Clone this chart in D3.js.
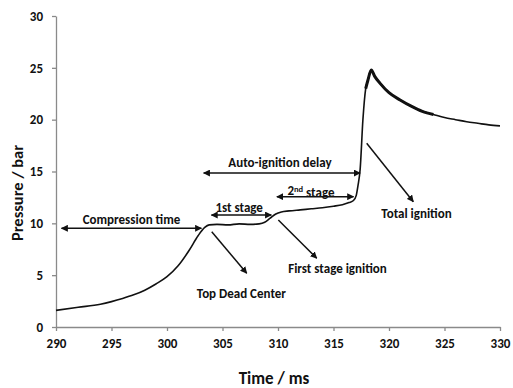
<!DOCTYPE html>
<html>
<head>
<meta charset="utf-8">
<script src="https://cdn.jsdelivr.net/npm/d3@7"></script>
<style>
  body { margin: 0; background: #fff; }
  svg text { font-family: Carlito, Calibri, Lato, sans-serif; font-weight: bold; fill: #111; }
</style>
</head>
<body>
<div id="chart"></div>
<script>
// pressure trace, time in ms / pressure in bar
const timeMs = [290, 292, 294, 295, 296, 297, 298, 299, 300, 301, 302, 302.8, 303.4, 303.8,
  304.5, 305.5, 306.5, 307.5, 308.3, 308.8, 309.3, 309.8, 310.3, 311, 312, 313, 314, 315,
  315.8, 316.4, 316.8, 317.05, 317.2, 317.4, 317.65, 317.9, 318.1, 318.4, 318.7, 319.2,
  320, 321, 322, 323, 324, 325, 326, 327, 328, 329, 330];
const pressureBar = [1.6, 1.9, 2.2, 2.45, 2.75, 3.1, 3.55, 4.15, 4.85, 5.9, 7.4, 8.8, 9.6, 9.85,
  9.9, 9.85, 9.95, 9.9, 9.95, 10.1, 10.5, 10.9, 11.1, 11.2, 11.3, 11.4, 11.5, 11.65,
  11.8, 12.0, 12.2, 12.7, 13.6, 15.2, 20, 23, 23.8, 24.8, 24.2, 23.5,
  22.6, 21.9, 21.3, 20.8, 20.5, 20.2, 20.0, 19.8, 19.65, 19.5, 19.4];

const xTicks = [290, 295, 300, 305, 310, 315, 320, 325, 330];
const yTicks = [0, 5, 10, 15, 20, 25, 30];

// double-headed arrows: [t1, t2, p]
const spanArrows = [
  [290.5, 303.1, 9.52],   // compression time
  [303.3, 317.4, 14.85],  // auto-ignition delay
  [304.0, 309.4, 10.8],   // 1st stage
  [309.9, 316.8, 12.57]   // 2nd stage
];
// pointer arrows: [t1, p1, t2, p2]
const pointerArrows = [
  [304.03, 9.19, 307.18, 5.18],   // top dead center
  [310.03, 10.32, 313.49, 6.63],  // first stage ignition
  [317.99, 17.72, 322.19, 12.09]  // total ignition
];
const labelText = ["Compression time", "Auto-ignition delay", "1st stage", "Top Dead Center", "First stage ignition", "Total ignition"];
const labelTime = [296.8, 310.18, 306.5, 306.7, 315.36, 322.48];
const labelPressure = [10.37, 15.92, 11.55, 3.28, 5.66, 11.0];

const W = 513, H = 388;
const svg = d3.select("#chart").append("svg")
  .attr("width", W).attr("height", H);

const x = d3.scaleLinear().domain([290, 330]).range([56, 500]);
const y = d3.scaleLinear().domain([0, 30]).range([327, 16]);

svg.append("defs").append("marker")
  .attr("id", "head")
  .attr("viewBox", "0 0 10 10")
  .attr("refX", 9).attr("refY", 5)
  .attr("markerWidth", 7).attr("markerHeight", 7)
  .attr("markerUnits", "userSpaceOnUse")
  .attr("orient", "auto-start-reverse")
  .append("path").attr("d", "M0,0 L10,5 L0,10 z").attr("fill", "#111");

// axes
const xAxis = svg.append("g")
  .attr("transform", `translate(0,${y(0)})`)
  .call(d3.axisBottom(x).tickValues(xTicks).tickSize(4).tickSizeOuter(0).tickPadding(8));
const yAxis = svg.append("g")
  .attr("transform", `translate(${x(290)},0)`)
  .call(d3.axisLeft(y).tickValues(yTicks).tickSize(4).tickSizeOuter(0).tickPadding(9));
[xAxis, yAxis].forEach(a => {
  a.selectAll("path, line").attr("stroke", "#8a8a8a").attr("stroke-width", 1.3);
  a.selectAll("text").style("font-size", "13px").attr("fill", "#111");
});

svg.append("text")
  .attr("x", 274).attr("y", 378).attr("dy", "0.35em")
  .attr("text-anchor", "middle").style("font-size", "17px")
  .text("Time / ms");
svg.append("text")
  .attr("transform", "translate(17.5,193) rotate(-90)")
  .attr("dy", "0.35em")
  .attr("text-anchor", "middle").style("font-size", "16.5px")
  .text("Pressure  / bar");

// pressure trace
const pts = timeMs.map((t, i) => [t, pressureBar[i]]);
const line = d3.line().x(d => x(d[0])).y(d => y(d[1])).curve(d3.curveMonotoneX);
svg.append("path")
  .attr("d", line(pts))
  .attr("fill", "none").attr("stroke", "#111").attr("stroke-width", 1.6);
// noisy, thicker band after the peak
svg.append("path")
  .attr("d", line(pts.filter(d => d[0] >= 317.9 && d[0] <= 324)))
  .attr("fill", "none").attr("stroke", "#111").attr("stroke-width", 3);

// arrows
svg.selectAll(".span-arrow").data(spanArrows).enter().append("line")
  .attr("class", "span-arrow")
  .attr("x1", d => x(d[0])).attr("x2", d => x(d[1]))
  .attr("y1", d => y(d[2])).attr("y2", d => y(d[2]))
  .attr("stroke", "#111").attr("stroke-width", 1.5)
  .attr("marker-start", "url(#head)").attr("marker-end", "url(#head)");

svg.selectAll(".ptr-arrow").data(pointerArrows).enter().append("line")
  .attr("class", "ptr-arrow")
  .attr("x1", d => x(d[0])).attr("y1", d => y(d[1]))
  .attr("x2", d => x(d[2])).attr("y2", d => y(d[3]))
  .attr("stroke", "#111").attr("stroke-width", 1.5)
  .attr("marker-end", "url(#head)");

svg.selectAll(".note").data(labelText).enter().append("text")
  .attr("class", "note")
  .attr("x", (d, i) => x(labelTime[i])).attr("y", (d, i) => y(labelPressure[i]))
  .attr("dy", "0.35em").attr("text-anchor", "middle")
  .style("font-size", "13px")
  .text(d => d);

// 2nd stage with superscript
const sec = svg.append("text")
  .attr("x", x(312.97)).attr("y", y(13.15))
  .attr("dy", "0.35em").attr("text-anchor", "middle")
  .style("font-size", "13px");
sec.append("tspan").text("2");
sec.append("tspan").attr("dy", "-0.4em").style("font-size", "8.5px").text("nd");
sec.append("tspan").attr("dy", "0.4em").text(" stage");
</script>
</body>
</html>
